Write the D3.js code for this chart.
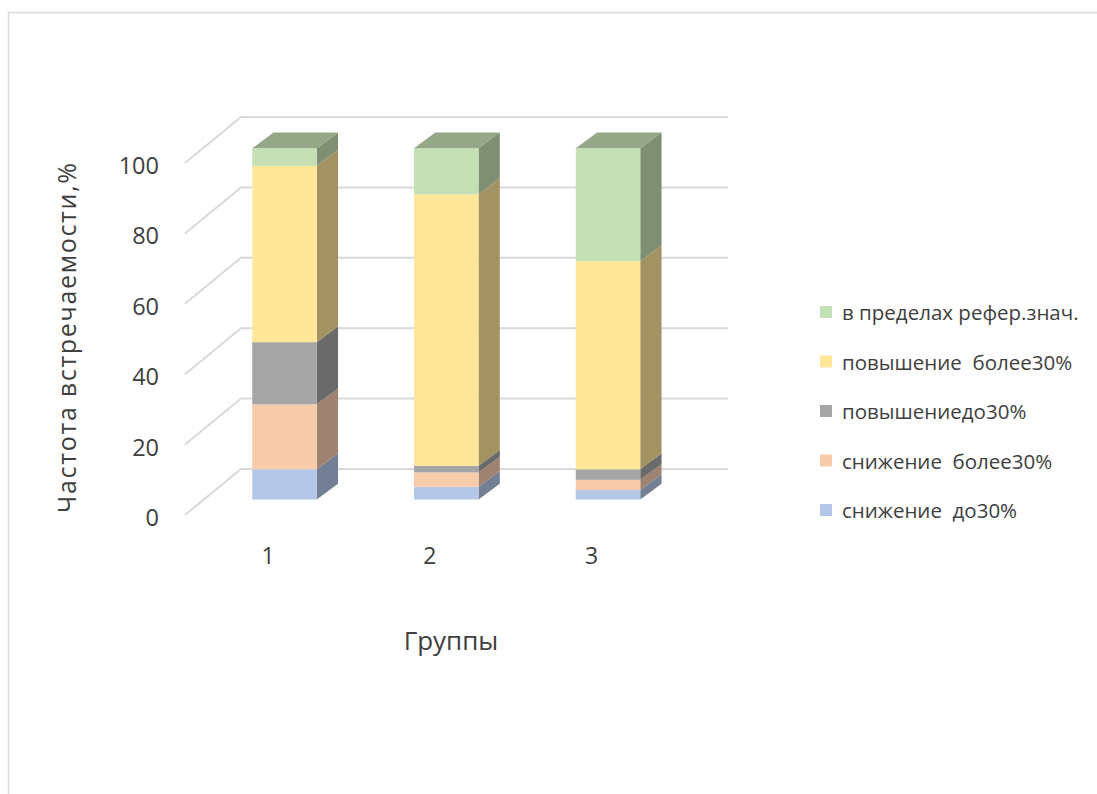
<!DOCTYPE html>
<html>
<head>
<meta charset="utf-8">
<script src="https://cdn.jsdelivr.net/npm/d3@7"></script>
<style>
  html, body { margin: 0; padding: 0; background: #ffffff; }
  svg { display: block; }
  text { font-family: "Open Sans", "Noto Sans", sans-serif; fill: #404040; white-space: pre; }
</style>
</head>
<body>
<svg id="chart" width="1097" height="794"></svg>
<script>
// Groups on the horizontal axis
const groups = ["1", "2", "3"];

// Series, stacked bottom to top (percent of patients in each group)
const seriesNames = [
  "снижение  до30%",
  "снижение  более30%",
  "повышениедо30%",
  "повышение  более30%",
  "в пределах рефер.знач."
];
const seriesColors = ["#B4C7E7", "#F8CBAD", "#A5A5A5", "#FFE699", "#C5E0B4"];

const reduceLess30 = [8.6, 3.6, 2.7];
const reduceMore30 = [18.5, 4.1, 2.9];
const raiseLess30  = [17.7, 1.9, 3.0];
const raiseMore30  = [50.2, 77.3, 59.3];
const withinRef    = [5.0, 13.1, 32.1];

const yTicks = [0, 20, 40, 60, 80, 100];

const yTitle = "Частота встречаемости,%";
const xTitle = "Группы";

// ---- layout ----
const svg = d3.select("#chart");
const W = 1097, H = 794;

// back wall and bar front planes
const yBack  = d3.scaleLinear().domain([0, 100]).range([469, 117]);
const yFront = d3.scaleLinear().domain([0, 100]).range([499.5, 148.3]);
const wallLeft = 241, wallRight = 728;
const sideDx = -56, sideDy = 46;          // left side wall depth
const barDx = 21.3, barDy = -15.8;        // bar depth
const barW = 64.5;
const xCenter = d3.scalePoint().domain(groups).range([284.5, 608]);

// frame
svg.append("rect")
  .attr("x", 8.5).attr("y", 12.5)
  .attr("width", W).attr("height", H)
  .attr("fill", "none").attr("stroke", "#D9D9D9").attr("stroke-width", 1.5);

// gridlines: back wall and side wall
const grid = svg.append("g").attr("stroke", "#D9D9D9").attr("stroke-width", 2).attr("fill", "none");
yTicks.forEach(t => {
  const y = yBack(t);
  grid.append("path")
    .attr("d", `M${wallLeft + sideDx},${y + sideDy}L${wallLeft},${y}L${wallRight},${y}`);
});

// tick labels
svg.append("g").selectAll("text").data(yTicks).join("text")
  .attr("x", 159)
  .attr("y", d => yBack(d) + sideDy + 2)
  .attr("text-anchor", "end")
  .attr("dominant-baseline", "central")
  .attr("font-size", 23.5)
  .text(d => d);

// stacked data
const values = [reduceLess30, reduceMore30, raiseLess30, raiseMore30, withinRef];
const table = groups.map((g, i) => {
  const row = { group: g };
  seriesNames.forEach((s, k) => row[s] = values[k][i]);
  return row;
});
const stacked = d3.stack().keys(seriesNames)(table);

const shade = (c, f) => {
  const r = d3.rgb(c);
  return d3.rgb(r.r * f, r.g * f, r.b * f).formatHex();
};

const bars = svg.append("g");
stacked.forEach((layer, k) => {
  const color = seriesColors[k];
  layer.forEach(d => {
    const g = d.data.group;
    const xl = xCenter(g) - barW / 2, xr = xCenter(g) + barW / 2;
    const y0 = yFront(d[0]), y1 = yFront(d[1]);
    // right side face
    bars.append("path")
      .attr("d", `M${xr},${y0}L${xr + barDx},${y0 + barDy}L${xr + barDx},${y1 + barDy}L${xr},${y1}Z`)
      .attr("fill", shade(color, 0.64));
    // front face
    bars.append("rect")
      .attr("x", xl).attr("y", y1)
      .attr("width", barW).attr("height", y0 - y1)
      .attr("fill", color);
    // top face on the uppermost segment
    if (k === stacked.length - 1) {
      bars.append("path")
        .attr("d", `M${xl},${y1}L${xl + barDx},${y1 + barDy}L${xr + barDx},${y1 + barDy}L${xr},${y1}Z`)
        .attr("fill", shade(color, 0.75));
    }
  });
});

// category labels
svg.append("g").selectAll("text").data(groups).join("text")
  .attr("x", d => xCenter(d) - 16.5)
  .attr("y", 555)
  .attr("text-anchor", "middle")
  .attr("dominant-baseline", "central")
  .attr("font-size", 23)
  .text(d => d);

// axis titles
svg.append("text")
  .attr("transform", "translate(66,338) rotate(-90)")
  .attr("text-anchor", "middle")
  .attr("dominant-baseline", "central")
  .attr("font-size", 25)
  .attr("textLength", 350)
  .attr("lengthAdjust", "spacing")
  .text(yTitle);

svg.append("text")
  .attr("x", 451).attr("y", 640)
  .attr("text-anchor", "middle")
  .attr("dominant-baseline", "central")
  .attr("font-size", 26)
  .text(xTitle);

// legend, top entry is the top of the stack
const legendItems = seriesNames.map((s, k) => ({ name: s, color: seriesColors[k] })).reverse();
const legend = svg.append("g");
legendItems.forEach((d, i) => {
  const cy = 312 + i * 49.5;
  legend.append("rect")
    .attr("x", 820).attr("y", cy - 6)
    .attr("width", 12).attr("height", 12)
    .attr("fill", d.color);
  legend.append("text")
    .attr("x", 842).attr("y", cy)
    .attr("dominant-baseline", "central")
    .attr("font-size", 20.5)
    .text(d.name);
});
</script>
</body>
</html>
